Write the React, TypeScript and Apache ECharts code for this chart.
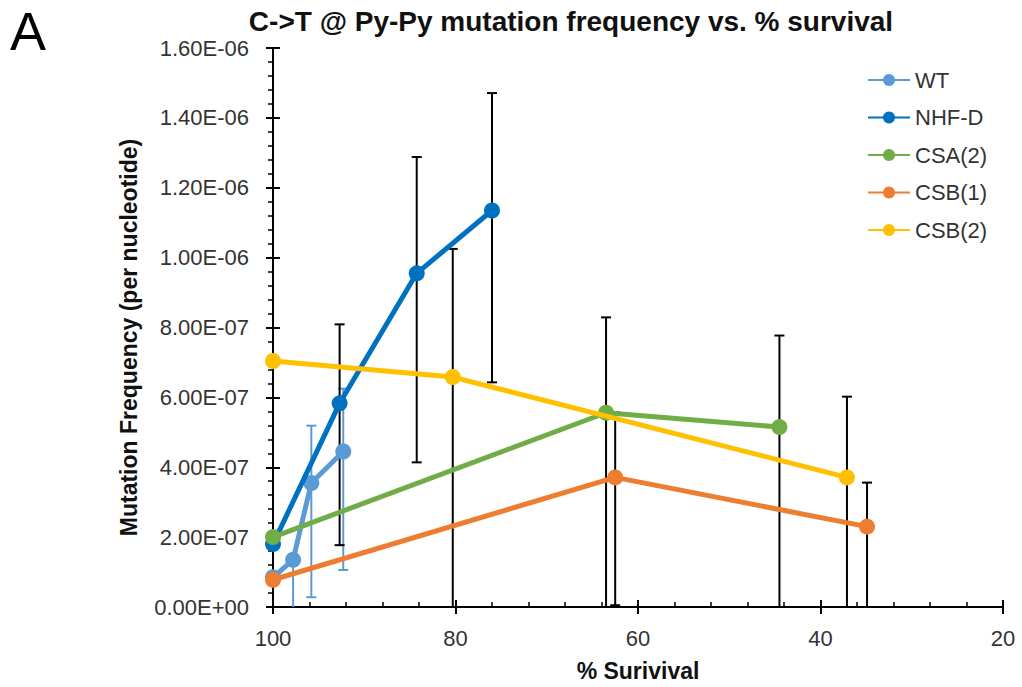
import React, { useEffect, useRef } from "react";
import * as echarts from "echarts";

const FONT = "Liberation Sans";

const yTickLabels = [
  "0.00E+00", "2.00E-07", "4.00E-07", "6.00E-07", "8.00E-07",
  "1.00E-06", "1.20E-06", "1.40E-06", "1.60E-06",
];
const yStep = 2e-7;
const xTickStep = 20;

const seriesNames = ["WT", "NHF-D", "CSA(2)", "CSB(1)", "CSB(2)"];
const seriesColors = ["#5B9BD5", "#0070C0", "#70AD47", "#ED7D31", "#FFC000"];
const errColors = ["#5B9BD5", "#000000", "#000000", "#000000", "#000000"];

const xWT = [100, 97.8, 95.8, 92.3];
const yWT = [8.5e-8, 1.35e-7, 3.55e-7, 4.45e-7];
const loWT = [null, -1e-8, 2.8e-8, 1.06e-7];
const hiWT = [null, 1.5e-7, 5.19e-7, 6.25e-7];

const xNHF = [100, 92.7, 84.25, 76.0];
const yNHF = [1.8e-7, 5.83e-7, 9.55e-7, 1.135e-6];
const loNHF = [null, 1.77e-7, 4.14e-7, 6.43e-7];
const hiNHF = [null, 8.09e-7, 1.288e-6, 1.471e-6];

const xCSA2 = [100, 63.5, 44.5];
const yCSA2 = [2.0e-7, 5.56e-7, 5.15e-7];
const loCSA2 = [null, -1e-8, -1e-8];
const hiCSA2 = [null, 8.29e-7, 7.77e-7];

const xCSB1 = [100, 62.5, 34.9];
const yCSB1 = [7.8e-8, 3.71e-7, 2.3e-7];
const loCSB1 = [null, 5e-9, -1e-8];
const hiCSB1 = [null, 5.57e-7, 3.56e-7];

const xCSB2 = [100, 80.3, 37.1];
const yCSB2 = [7.04e-7, 6.58e-7, 3.71e-7];
const loCSB2 = [null, -1e-8, -1e-8];
const hiCSB2 = [null, 1.025e-6, 6.02e-7];

const allX = [xWT, xNHF, xCSA2, xCSB1, xCSB2];
const allY = [yWT, yNHF, yCSA2, yCSB1, yCSB2];
const allLo = [loWT, loNHF, loCSA2, loCSB1, loCSB2];
const allHi = [hiWT, hiNHF, hiCSA2, hiCSB1, hiCSB2];

const yMin = 0;
const yMax = 1.6e-6;

export default function App() {
  const ref = useRef<HTMLDivElement>(null);
  useEffect(() => {
    if (!ref.current) return;
    const chart = echarts.init(ref.current, null, { renderer: "svg" });

    const lineSeries = seriesNames.map((name, i) => ({
      name,
      type: "line",
      xAxisIndex: 0,
      yAxisIndex: 0,
      data: allX[i].map((x, j) => [x, allY[i][j]]),
      symbol: "circle",
      symbolSize: 16,
      showSymbol: true,
      lineStyle: { color: seriesColors[i], width: 5 },
      itemStyle: { color: seriesColors[i] },
      z: 3 + i,
    }));

    const errSeries = seriesNames.map((name, i) => ({
      name: name + " err",
      type: "custom",
      xAxisIndex: 0,
      yAxisIndex: 0,
      z: 2,
      silent: true,
      data: allX[i]
        .map((x, j) => [x, allLo[i][j], allHi[i][j]])
        .filter((d) => d[1] !== null && d[2] !== null),
      renderItem: (params: any, api: any) => {
        const x = api.value(0);
        const lo = api.value(1);
        const hi = api.value(2);
        const loClamped = Math.max(lo, yMin);
        const pLo = api.coord([x, loClamped]);
        const pHi = api.coord([x, Math.min(hi, yMax)]);
        const cw = 5;
        const style = { stroke: errColors[i], lineWidth: 2 };
        const children: any[] = [
          { type: "line", shape: { x1: pLo[0], y1: pLo[1], x2: pHi[0], y2: pHi[1] }, style },
        ];
        if (hi <= yMax) {
          children.push({ type: "line", shape: { x1: pHi[0] - cw, y1: pHi[1], x2: pHi[0] + cw, y2: pHi[1] }, style });
        }
        if (lo >= yMin) {
          children.push({ type: "line", shape: { x1: pLo[0] - cw, y1: pLo[1], x2: pLo[0] + cw, y2: pLo[1] }, style });
        }
        return { type: "group", children };
      },
    }));

    const axisLabelStyle = { fontFamily: FONT, fontSize: 22, color: "#333" };

    chart.setOption({
      animation: false,
      backgroundColor: "#fff",
      textStyle: { fontFamily: FONT },
      grid: { left: 273, right: 19, top: 48, bottom: 79, containLabel: false },
      graphic: [
        {
          type: "text",
          style: {
            text: "A", x: 10, y: 31, fontSize: 54, fontFamily: FONT, fill: "#000",
            verticalAlign: "middle", align: "left",
          },
        },
        {
          type: "text",
          style: {
            text: "C->T @ Py-Py mutation frequency vs. % survival",
            x: 571, y: 21, fontSize: 28, fontWeight: "bold", fontFamily: FONT, fill: "#111",
            align: "center", verticalAlign: "middle",
          },
        },
      ],
      legend: {
        data: seriesNames,
        orient: "vertical",
        left: 862,
        top: 64,
        itemWidth: 42,
        itemHeight: 15,
        itemGap: 15.5,
        textStyle: { fontFamily: FONT, fontSize: 22, color: "#333" },
      },
      xAxis: [
        {
          type: "value",
          min: 20,
          max: 100,
          interval: xTickStep,
          inverse: true,
          name: "% Surivival",
          nameLocation: "middle",
          nameGap: 52,
          nameTextStyle: { fontFamily: FONT, fontSize: 23, fontWeight: "bold", color: "#111" },
          axisLine: { show: true, lineStyle: { color: "#000", width: 2 } },
          axisTick: { show: true, inside: false, length: 7, lineStyle: { color: "#000", width: 2 } },
          axisLabel: { ...axisLabelStyle, margin: 20 },
          splitLine: { show: false },
        },
        {
          type: "value",
          min: 20,
          max: 100,
          interval: xTickStep,
          inverse: true,
          position: "bottom",
          axisLine: { show: false },
          axisTick: { show: true, inside: true, length: 7, lineStyle: { color: "#000", width: 2 } },
          minorTick: { show: true, splitNumber: 5, length: 5, lineStyle: { color: "#000", width: 1.5 } },
          axisLabel: { show: false },
          splitLine: { show: false },
        },
      ],
      yAxis: [
        {
          type: "value",
          min: yMin,
          max: yMax,
          interval: yStep,
          name: "Mutation Frequency (per nucleotide)",
          nameLocation: "middle",
          nameGap: 133,
          nameTextStyle: {
            fontFamily: FONT, fontSize: 23, fontWeight: "bold", color: "#111",
            padding: [0, 20, 0, 0],
          },
          axisLine: { show: true, lineStyle: { color: "#000", width: 2 } },
          axisTick: { show: true, inside: false, length: 7, lineStyle: { color: "#000", width: 2 } },
          minorTick: { show: true, splitNumber: 5, length: 5, lineStyle: { color: "#000", width: 1.5 } },
          axisLabel: {
            ...axisLabelStyle,
            margin: 24,
            formatter: (v: number) => yTickLabels[Math.round(v / yStep)] ?? "",
          },
          splitLine: { show: false },
        },
        {
          type: "value",
          min: yMin,
          max: yMax,
          interval: yStep,
          position: "left",
          axisLine: { show: false },
          axisTick: { show: true, inside: true, length: 7, lineStyle: { color: "#000", width: 2 } },
          axisLabel: { show: false },
          splitLine: { show: false },
        },
      ],
      series: [...errSeries, ...lineSeries],
    });
    return () => chart.dispose();
  }, []);
  return (
    <div
      ref={ref}
      style={{ position: "absolute", left: 0, top: 0, width: 1022, height: 687, background: "#fff" }}
    />
  );
}
